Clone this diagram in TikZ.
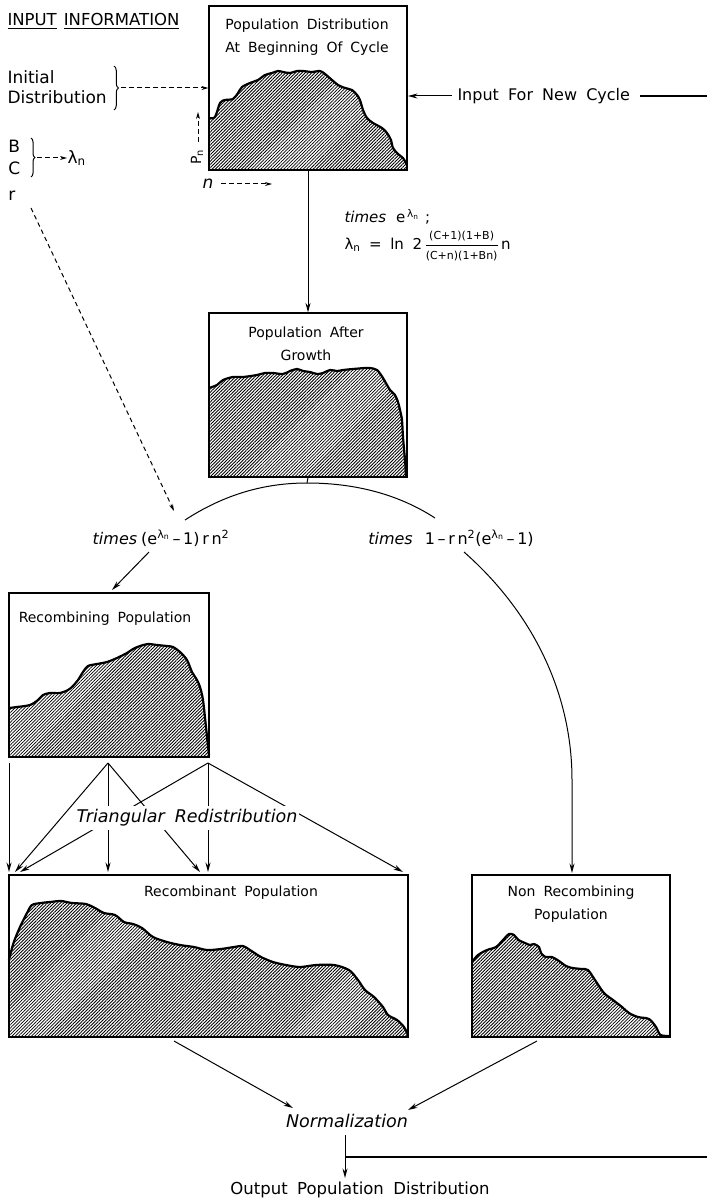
\documentclass[tikz,border=0pt]{standalone}
\usepackage{amsmath}
\usepackage{fontspec}
\setmainfont{DejaVu Sans}[WordSpace=1.8]
\usetikzlibrary{arrows.meta,patterns.meta,decorations.pathreplacing}
\begin{document}
\begin{tikzpicture}[x=1pt,y=-1pt,line width=1pt,
  box/.style={draw,line width=1.2pt,inner sep=0pt},
  arr/.style={-{Stealth[length=9.5pt,width=5pt]}},
  darr/.style={dash pattern=on 4.5pt off 3.5pt,-{Stealth[length=7pt,width=4pt]}},
  hatch/.style={pattern={Lines[angle=45,distance=2.3pt,line width=0.85pt]},pattern color=black},
  prof/.style={line width=2.2pt,line join=round},
  btxt/.style={font=\fontsize{14}{23}\selectfont,align=center,inner sep=0pt},
  stxt/.style={font=\fontsize{16}{19.5}\selectfont,inner sep=0pt},
  itxt/.style={font=\fontsize{17.5}{20}\selectfont\itshape,inner sep=0pt}]
\useasboundingbox (0,0) rectangle (707,1201);

% ---------- boxes ----------
\node[box,minimum width=198pt,minimum height=164pt] (top) at (308,88) {};
\node[box,minimum width=198pt,minimum height=164pt] (mid) at (308,395) {};
\node[box,minimum width=200pt,minimum height=164pt] (rec) at (109,675) {};
\node[box,minimum width=399pt,minimum height=162pt] (rcb) at (208.5,956) {};
\node[box,minimum width=198pt,minimum height=162pt] (nrc) at (571,956) {};

% ---------- histograms ----------
\def\topP{(209,118) (215,117) (220,103) (225,100) (233,99) (238,93) (242,87) (250,83) (258,80) (265,75) (272,73) (278,71) (283,72) (290,73) (297,71) (303,71) (312,72) (320,71) (325,74) (332,80) (338,85) (345,88) (352,90) (357,95) (360,100) (363,110) (367,118) (373,123) (382,128) (387,133) (391,140) (393,148) (398,154) (403,158) (407,165)}
\fill[hatch] (209,170) -- plot[smooth,tension=0.5] coordinates {\topP} -- (407,170) -- cycle;
\draw[prof] plot[smooth,tension=0.5] coordinates {\topP};

\def\midP{(209,388) (217,385) (223,380) (233,377) (243,377) (257,375) (265,373) (273,373) (283,374) (290,371) (297,369) (303,371) (310,372) (317,374) (323,373) (330,370) (337,371) (343,370) (353,369) (365,368) (370,368) (377,370) (383,378) (390,390) (395,395) (398,402) (400,410) (402,420) (403,437) (405,460) (406,477)}
\fill[hatch] (209,477) -- plot[smooth,tension=0.5] coordinates {\midP} -- (407,477) -- cycle;
\draw[prof] plot[smooth,tension=0.5] coordinates {\midP};

\def\recP{(9,708) (17,707) (30,705) (38,700) (43,695) (50,693) (60,693) (68,690) (73,686) (78,680) (83,672) (88,666) (97,664) (107,662) (117,658) (127,653) (133,649) (140,646) (148,644) (157,645) (167,646) (173,647) (180,652) (187,660) (192,672) (197,680) (200,687) (203,700) (206,727) (209,755)}
\fill[hatch] (9,757) -- plot[smooth,tension=0.5] coordinates {\recP} -- (209,757) -- cycle;
\draw[prof] plot[smooth,tension=0.5] coordinates {\recP};

\def\rcbP{(9,960) (13.5,943) (20,927) (27,913) (32,905) (41,903) (50,902) (61,901) (72,903) (86,904) (95,908) (104,913) (115,915) (124,922) (133,924) (142,928) (153,937) (167,942) (180,945) (194,947) (207,950) (221,949) (234,947) (243,946) (250,950) (261,957) (273,962) (286,965) (300,967) (316,965) (334,965) (349,970) (358,980) (365,990) (374,997) (383,1007) (388,1015) (397,1020) (404,1027) (408,1035)}
\fill[hatch] (9,1037) -- plot[smooth,tension=0.5] coordinates {\rcbP} -- (408,1037) -- cycle;
\draw[prof] plot[smooth,tension=0.5] coordinates {\rcbP};

\def\nrcP{(472,962) (478,955) (487,950) (496,947) (503,940) (509,934) (514,935) (518.5,940) (525,943) (530,945) (534,944) (539,947) (541,953) (545.5,957) (552,957) (559,961) (566,966) (572.6,968) (581.6,969) (588,970) (595,980) (604,993) (613,1000) (622,1007) (629,1013) (638,1017) (649,1019) (656,1027) (660.5,1035) (670,1036)}
\fill[hatch] (472,1037) -- plot[smooth,tension=0.5] coordinates {\nrcP} -- (670,1037) -- cycle;
\draw[prof] plot[smooth,tension=0.5] coordinates {\nrcP};

% redraw box borders on top
\foreach \b in {top,mid,rec,rcb,nrc} \draw[line width=1.2pt] (\b.north west) rectangle (\b.south east);

% ---------- box titles ----------
\node[btxt] (toptxt) at (307,37) {Population Distribution\\At Beginning Of Cycle};
\node[btxt] (midtxt) at (306,344) {Population After\\Growth};
\node[btxt] (rectxt) at (105,619) {Recombining Population};
\node[btxt] (rcbtxt) at (231,893) {Recombinant Population};
\node[btxt] (nrctxt) at (571,904.5) {Non Recombining\\Population};

% ---------- input information ----------
\node[font=\fontsize{16.5}{19}\selectfont,anchor=west,inner sep=0pt] (inp) at (7,21) {\underline{INPUT}\hspace{7pt}\underline{INFORMATION}};
\node[stxt,font=\fontsize{17}{20}\selectfont,anchor=west,align=left] (initd) at (7,87) {Initial\\Distribution};
\draw[decorate,decoration={brace,amplitude=4.5pt}] (114,66) -- (114,110);
\coordinate (br1) at (121,88);
\draw[darr] (br1) -- (br1 -| top.west);

\node[stxt,font=\fontsize{17}{20}\selectfont,anchor=west] (B) at (8,146) {B};
\node[stxt,font=\fontsize{17}{20}\selectfont,anchor=west] (C) at (8,168) {C};
\draw[decorate,decoration={brace,amplitude=4pt}] (31,138) -- (31,177);
\coordinate (br2) at (37,158);
\node[stxt,font=\fontsize{17}{20}\selectfont,anchor=west] (lam) at (67,158) {λ\textsubscript{n}};
\draw[darr] (br2) -- (lam.west);

\node[stxt,font=\fontsize{17}{20}\selectfont,anchor=west] (r) at (8,196) {r};
\coordinate (rstart) at (31,208);
\coordinate (rend) at (174,511);
\draw[darr] (rstart) -- (rend);

% axes labels
\node[font=\fontsize{14}{16}\selectfont,rotate=90,inner sep=0pt] (Pn) at (197,157) {P\textsubscript{n}};
\coordinate (pa1) at (198,142);
\coordinate (pa2) at (198,112);
\draw[darr] (pa1) -- (pa2);
\node[font=\fontsize{17}{18}\selectfont\itshape,inner sep=0pt] (nax) at (208,184) {n};
\coordinate (na1) at (221,184);
\coordinate (na2) at (272,184);
\draw[darr] (na1) -- (na2);

% input for new cycle
\node[stxt,anchor=west] (newc) at (457,96) {Input For New Cycle};
\coordinate (fb1) at (707,96);
\coordinate (nc1) at (452,96);
\coordinate (nc2) at (408,96);
\coordinate (nc3) at (640,96);
\draw[arr] (nc1) -- (nc2);
\draw[line width=1.5pt] (nc3) -- (fb1);

% growth
\draw[arr] (top.south) -- (mid.north);
\node[font=\fontsize{15}{18}\selectfont,anchor=west,inner sep=0pt] (f1) at (344,217) {{\itshape times}\hspace{10pt}e\textsuperscript{\,λ\textsubscript{n}}\hspace{6pt};};
\node[font=\fontsize{15}{18}\selectfont,anchor=west,inner sep=0pt] (f2) at (344,246) {λ\textsubscript{n} = ln 2\,$\dfrac{\mbox{\fontsize{11}{12}\selectfont (C+1)(1+B)}}{\mbox{\fontsize{11}{12}\selectfont (C+n)(1+Bn)}}$\,n};

% split
\coordinate (atop) at (307,483);
\coordinate (aL) at (185,520);
\coordinate (aR) at (435,518);
\draw (mid.south) -- (atop);
\draw (aL) .. controls (225,494) and (265,483) .. (atop) .. controls (350,483) and (395,492) .. (aR);
\node[font=\fontsize{16}{18}\selectfont,inner sep=0pt] (lblL) at (161,538) {{\itshape times}\hspace{4pt}(e\textsuperscript{λ\textsubscript{n}}\,–\,1)\,r\,n\textsuperscript{2}};
\node[font=\fontsize{16}{18}\selectfont,inner sep=0pt] (lblR) at (451,538) {{\itshape times}\hspace{12pt}1\,–\,r\,n\textsuperscript{2}(e\textsuperscript{λ\textsubscript{n}}\,–\,1)};
\coordinate (sL) at (149,552);
\coordinate (recin) at (112,590);
\draw[arr] (sL) -- (recin);
\coordinate (sR) at (464,552);
\coordinate (nrcin) at (572,873);
\draw[arr] (sR) .. controls (530,610) and (572,690) .. (572,780) -- (nrcin);

% triangular redistribution
\coordinate (L0) at (9,763);
\coordinate (A) at (108,763);
\coordinate (Bp) at (208,763);
\coordinate (t1) at (9,872);
\coordinate (t2) at (15,872);
\coordinate (t3) at (20,872);
\coordinate (t4) at (108,872);
\coordinate (t5) at (200,872);
\coordinate (t6) at (208,872);
\coordinate (t7) at (403,872);
\draw[arr] (L0) -- (t1);
\draw[arr] (A) -- (t2);
\draw[arr] (A) -- (t4);
\draw[arr] (A) -- (t5);
\draw[arr] (Bp) -- (t3);
\draw[arr] (Bp) -- (t6);
\draw[arr] (Bp) -- (t7);
\node[itxt,fill=white,inner xsep=2pt,inner ysep=4pt] (tri) at (187,818) {Triangular Redistribution};

% normalization
\node[itxt] (norm) at (347,1121) {Normalization};
\coordinate (n1) at (174,1041);
\coordinate (n2) at (537,1041);
\coordinate (n1e) at (293,1108);
\coordinate (n2e) at (408,1110);
\draw[arr] (n1) -- (n1e);
\draw[arr] (n2) -- (n2e);
\node[font=\fontsize{16.5}{19}\selectfont,inner sep=0pt] (out) at (360,1190) {Output Population Distribution};
\coordinate (j0) at (345,1135);
\coordinate (j) at (345,1157);
\coordinate (jout) at (345,1178);
\coordinate (fb2) at (707,1157);
\draw[arr] (j0) -- (jout);
\draw[line width=1.5pt] (j) -- (fb2);
\end{tikzpicture}
\end{document}
